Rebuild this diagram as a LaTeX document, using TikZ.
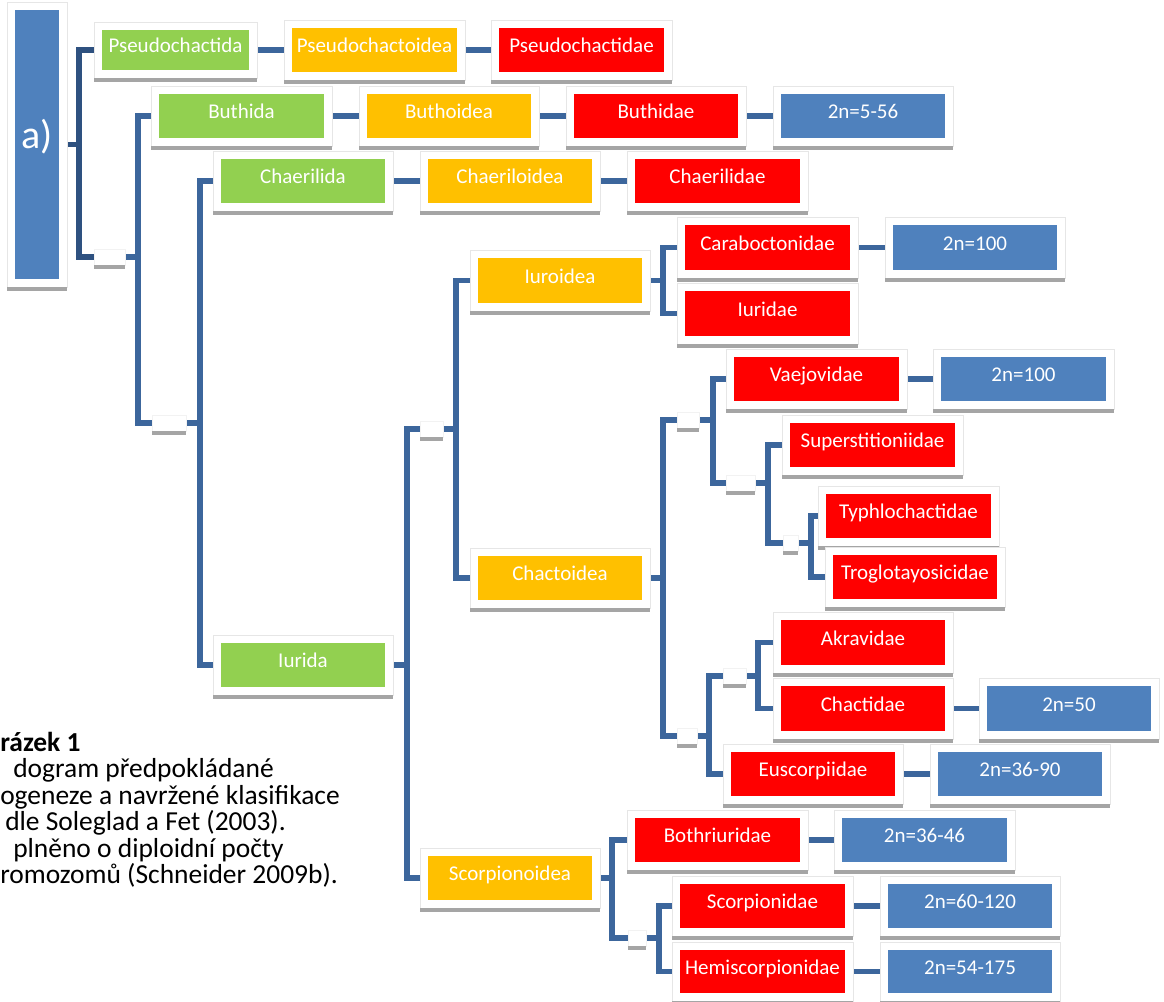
\documentclass[tikz,border=0pt]{standalone}
\usepackage{fontspec}
\setmainfont{Carlito}
\usetikzlibrary{calc}
\definecolor{cgreen}{HTML}{92D050}
\definecolor{corange}{HTML}{FFC000}
\definecolor{cred}{HTML}{FF0000}
\definecolor{cblue}{HTML}{4F81BD}
\definecolor{cline}{HTML}{3C669C}
\definecolor{clinedark}{HTML}{2E5180}
\definecolor{cshadow}{HTML}{A5A5A5}
\definecolor{cframe}{HTML}{E6E6E6}
\definecolor{chidframe}{HTML}{F2F2F2}
\pgfdeclarelayer{background}
\pgfsetlayers{background,main}
\newcommand\boxfont{\fontsize{15.75}{18}\selectfont}
\newcommand\capfont{\fontsize{20.6}{19.9}\selectfont\lineskiplimit=-100pt\relax}
\newcommand\tbox[7]{%
  \node[frm, minimum width={(#4-#2+16)*0.75pt}, minimum height={(#5-#3+16)*0.75pt}] (f#1) at ({(#2+#4)/2},{(#3+#5)/2}) {};
  \fill[cshadow] (f#1.south west) rectangle ([yshift=-3pt]f#1.south east);
  \node[inbox, fill=#6, minimum width={(#4-#2)*0.75pt}, minimum height={(#5-#3)*0.75pt}] (#1) at ({(#2+#4)/2},{(#3+#5)/2}) {#7};
}
\newcommand\hidnode[4]{%
  \node[frm, draw=chidframe, minimum width={(#3-#2)*0.75pt}, minimum height={16*0.75pt}] (#1) at ({(#2+#3)/2},#4) {};
  \fill[cshadow] (#1.south west) rectangle ([yshift=-3pt]#1.south east);
}
\begin{document}
\begin{tikzpicture}[x=0.75pt,y=-0.75pt,
  frm/.style={draw=cframe, line width=0.6pt, fill=white, inner sep=0pt, outer sep=0pt},
  inbox/.style={inner sep=0pt, outer sep=0pt, text=white, font=\boxfont, text height=6pt, text depth=2.25pt},
  conn/.style={draw=cline, line width=4pt},
  captext/.style={anchor=base west, inner sep=0pt, text=black}]
\useasboundingbox (0,0) rectangle (1164,1002);

% root
\tbox{root}{15}{10}{59}{279}{cblue}{\fontsize{30}{30}\selectfont\raisebox{-1.5pt}{a)}}

% boxes
\tbox{psa}{102}{30}{249}{70}{cgreen}{Pseudochactida}
\tbox{psb}{292}{28}{457}{72}{corange}{Pseudochactoidea}
\tbox{psc}{499}{28}{664}{72}{cred}{Pseudochactidae}
\tbox{bua}{159}{94}{324}{138}{cgreen}{Buthida}
\tbox{bub}{367}{94}{531}{138}{corange}{Buthoidea}
\tbox{buc}{574}{94}{738}{138}{cred}{Buthidae}
\tbox{bud}{781}{94}{945}{138}{cblue}{2n=5-56}
\tbox{cha}{221}{159}{385}{203}{cgreen}{Chaerilida}
\tbox{chb}{428}{159}{592}{203}{corange}{Chaeriloidea}
\tbox{chc}{635}{159}{800}{203}{cred}{Chaerilidae}
\tbox{iurida}{221}{643}{385}{687}{cgreen}{Iurida}
\tbox{iuroidea}{478}{258}{642}{303}{corange}{Iuroidea}
\tbox{carab}{685}{225}{850}{270}{cred}{Caraboctonidae}
\tbox{carabn}{893}{225}{1057}{270}{cblue}{2n=100}
\tbox{iuridae}{685}{291}{850}{336}{cred}{Iuridae}
\tbox{chactoidea}{478}{556}{642}{600}{corange}{Chactoidea}
\tbox{vaej}{734}{357}{899}{401}{cred}{Vaejovidae}
\tbox{vaejn}{941}{357}{1106}{401}{cblue}{2n=100}
\tbox{super}{790}{423}{955}{467}{cred}{Superstitioniidae}
\tbox{typh}{826}{494}{991}{538}{cred}{Typhlochactidae}
\tbox{trog}{833}{555}{997}{599}{cred}{Troglotayosicidae}
\tbox{akr}{781}{620}{945}{665}{cred}{Akravidae}
\tbox{chac}{781}{686}{945}{731}{cred}{Chactidae}
\tbox{chacn}{987}{686}{1151}{731}{cblue}{2n=50}
\tbox{eusc}{731}{752}{895}{796}{cred}{Euscorpiidae}
\tbox{euscn}{938}{752}{1102}{796}{cblue}{2n=36-90}
\tbox{scoroid}{428}{856}{592}{900}{corange}{Scorpionoidea}
\tbox{both}{635}{818}{800}{862}{cred}{Bothriuridae}
\tbox{bothn}{842}{818}{1007}{862}{cblue}{2n=36-46}
\tbox{scorp}{680}{884}{845}{928}{cred}{Scorpionidae}
\tbox{scorpn}{888}{884}{1052}{928}{cblue}{2n=60-120}
\tbox{hemi}{680}{950}{845}{993}{cred}{Hemiscorpionidae}
\tbox{hemin}{888}{950}{1052}{993}{cblue}{2n=54-175}

% hidden branch nodes
\hidnode{h1}{94}{125}{257}
\hidnode{h2}{152}{186}{423}
\hidnode{h3}{420}{443}{429}
\hidnode{h4}{677}{699}{420}
\hidnode{h5}{677}{697}{736}
\hidnode{h6}{726}{755}{483}
\hidnode{h7}{783}{798}{543}
\hidnode{h8}{723}{746}{676}
\hidnode{h9}{628}{646}{938}

\begin{pgfonlayer}{background}
% tree brackets
\draw[conn, draw=clinedark] (froot.east) -- ++(12,0) |- (fpsa.west);
\draw[conn, draw=clinedark] (froot.east) -- ++(12,0) |- (h1.west);
\draw[conn] (h1.east) -- ++(13,0) |- (fbua.west);
\draw[conn] (h1.east) -- ++(13,0) |- (h2.west);
\draw[conn] (h2.east) -- ++(14,0) |- (fcha.west);
\draw[conn] (h2.east) -- ++(14,0) |- (fiurida.west);
\draw[conn] (fiurida.east) -- ++(14,0) |- (h3.west);
\draw[conn] (fiurida.east) -- ++(14,0) |- (fscoroid.west);
\draw[conn] (h3.east) -- ++(13,0) |- (fiuroidea.west);
\draw[conn] (h3.east) -- ++(13,0) |- (fchactoidea.west);
\draw[conn] (fiuroidea.east) -- ++(13,0) |- (fcarab.west);
\draw[conn] (fiuroidea.east) -- ++(13,0) |- (fiuridae.west);
\draw[conn] (fchactoidea.east) -- ++(13,0) |- (h4.west);
\draw[conn] (fchactoidea.east) -- ++(13,0) |- (h5.west);
\draw[conn] (h4.east) -- ++(14,0) |- (fvaej.west);
\draw[conn] (h4.east) -- ++(14,0) |- (h6.west);
\draw[conn] (h6.east) -- ++(13,0) |- (fsuper.west);
\draw[conn] (h6.east) -- ++(13,0) |- (h7.west);
\draw[conn] (h7.east) -- ++(13,0) |- (ftyph.west);
\draw[conn] (h7.east) -- ++(13,0) |- (ftrog.west);
\draw[conn] (h5.east) -- ++(12,0) |- (h8.west);
\draw[conn] (h5.east) -- ++(12,0) |- (feusc.west);
\draw[conn] (h8.east) -- ++(12,0) |- (fakr.west);
\draw[conn] (h8.east) -- ++(12,0) |- (fchac.west);
\draw[conn] (fscoroid.east) -- ++(12,0) |- (fboth.west);
\draw[conn] (fscoroid.east) -- ++(12,0) |- (h9.west);
\draw[conn] (h9.east) -- ++(13,0) |- (fscorp.west);
\draw[conn] (h9.east) -- ++(13,0) |- (fhemi.west);
% chains
\draw[conn] (fpsa.east) -- (fpsb.west);
\draw[conn] (fpsb.east) -- (fpsc.west);
\draw[conn] (fbua.east) -- (fbub.west);
\draw[conn] (fbub.east) -- (fbuc.west);
\draw[conn] (fbuc.east) -- (fbud.west);
\draw[conn] (fcha.east) -- (fchb.west);
\draw[conn] (fchb.east) -- (fchc.west);
\draw[conn] (fcarab.east) -- (fcarabn.west);
\draw[conn] (fvaej.east) -- (fvaejn.west);
\draw[conn] (fchac.east) -- (fchacn.west);
\draw[conn] (feusc.east) -- (feuscn.west);
\draw[conn] (fboth.east) -- (fbothn.west);
\draw[conn] (fscorp.east) -- (fscorpn.west);
\draw[conn] (fhemi.east) -- (fhemin.west);
\end{pgfonlayer}

% caption
\node[captext] (caption) at (0,751) {\parbox[t]{300pt}{\raggedright\capfont
\textbf{rázek 1}\\
\hspace*{9.75pt}dogram předpokládané\\
ogeneze a navržené klasifikace\\
\hspace*{3.75pt}dle Soleglad a Fet (2003).\\
\hspace*{9.75pt}plněno o diploidní počty\\
romozomů (Schneider 2009b).}};
\end{tikzpicture}
\end{document}
